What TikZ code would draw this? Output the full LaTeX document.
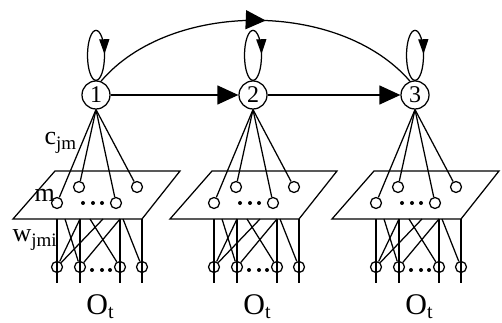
\documentclass[tikz,border=0pt]{standalone}
\usepackage{fontspec}
\setmainfont{Liberation Serif}
\usetikzlibrary{arrows.meta,decorations.markings}
\newcommand\mysub[1]{\raisebox{-5pt}{\fontsize{19}{19}\selectfont #1}}
\begin{document}
\begin{tikzpicture}[x=1pt,y=1pt,
  line width=1.25pt,
  state/.style={circle,draw,minimum size=28pt,inner sep=0pt,font=\fontsize{24}{24}\selectfont},
  unitc/.style={circle,draw,fill=white,minimum size=11pt,inner sep=0pt},
  obs/.style={circle,draw,minimum size=11pt,inner sep=0pt},
  dotc/.style={circle,fill,inner sep=0pt,minimum size=4pt},
  bigarrow/.style={-{Triangle[length=21pt,width=19pt]}},
  lbl/.style={font=\fontsize{26}{26}\selectfont,inner sep=0pt},
  olbl/.style={font=\fontsize{30}{30}\selectfont,inner sep=0pt,anchor=base},
  looparrow/.style={postaction=decorate,decoration={markings,mark=at position 0.74 with {\arrow{Triangle[length=15pt,width=10pt]}}}},
  arcarrow/.style={postaction=decorate,decoration={markings,mark=at position 0.53 with {\arrow{Triangle[length=20pt,width=19pt]}}}},
  ]
\useasboundingbox (0,0) rectangle (502,323);

\node[state] (n1) at (96,228) {\raisebox{-4pt}{1}};
\node[state] (n2) at (253,228) {\raisebox{-4pt}{2}};
\node[state] (n3) at (415,228) {\raisebox{-4pt}{3}};

\draw[bigarrow] (n1) -- (n2);
\draw[bigarrow] (n2) -- (n3);

\foreach \n in {n1,n2,n3}
  \draw[looparrow] (\n.north) arc[start angle=270,end angle=-90,x radius=8.5pt,y radius=25pt];

\draw[arcarrow] (n1.70) .. controls (170,323) and (340,323) .. (n3.110);

\foreach \i/\cx in {1/97,2/254,3/416} {
  \draw (\cx-84,104) -- (\cx+45,104) -- (\cx+83,152) -- (\cx-42,152) -- cycle;
  \node[unitc] (a\i1) at (\cx-40,120) {};
  \node[unitc] (a\i2) at (\cx-18,136) {};
  \node[unitc] (a\i3) at (\cx+19,120) {};
  \node[unitc] (a\i4) at (\cx+40,136) {};
  \node[dotc] (d\i1) at (\cx-14,120) {};
  \node[dotc] (d\i2) at (\cx-4,120) {};
  \node[dotc] (d\i3) at (\cx+5,120) {};
  \foreach \k in {1,2,3,4} \draw (n\i.south) -- (a\i\k);
  % lower layer
  \node[obs] (l\i1) at (\cx-40,56) {};
  \node[obs] (l\i2) at (\cx-17,56) {};
  \node[obs] (l\i3) at (\cx+23,56) {};
  \node[obs] (l\i4) at (\cx+45,56) {};
  \node[dotc] (e\i1) at (\cx-5,53) {};
  \node[dotc] (e\i2) at (\cx+5,53) {};
  \node[dotc] (e\i3) at (\cx+13,53) {};
  \foreach \k/\dx in {1/-40,2/-17,3/23,4/45} {
    \coordinate (v\i\k) at (\cx+\dx,104);
    \coordinate (w\i\k) at (\cx+\dx,40);
    \draw (v\i\k) -- (w\i\k);
  }
  \foreach \j/\dx/\t in {1/-32/2,2/-17/1,3/6/1,4/-7/3,5/23/2,6/26/4} {
    \coordinate (x\i\j) at (\cx+\dx,104);
    \draw (x\i\j) -- (l\i\t);
  }
  \node[olbl] (o\i) at (\cx+3,8) {O\raisebox{-4pt}{\fontsize{20}{20}\selectfont t}};
}

\node[lbl,anchor=base west] (c) at (44,178) {c\mysub{jm}};
\node[lbl,anchor=base west] (m) at (34,121) {m};
\node[lbl,anchor=base west] (w) at (12,81) {w\mysub{jmi}};
\end{tikzpicture}
\end{document}
